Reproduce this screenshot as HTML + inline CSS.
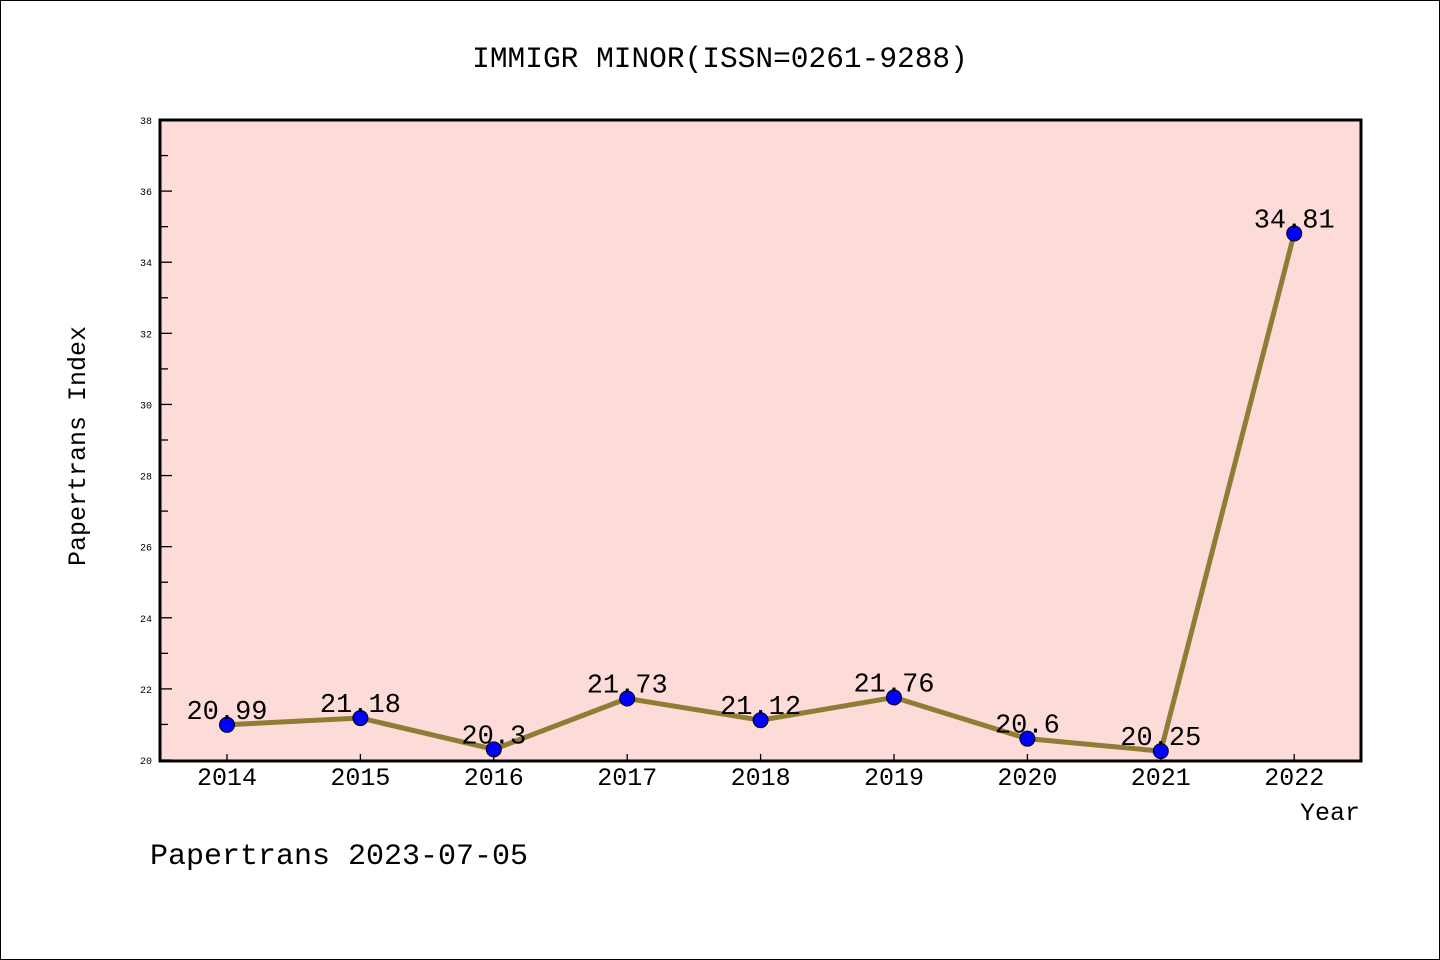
<!DOCTYPE html>
<html><head><meta charset="utf-8"><style>
html,body{margin:0;padding:0;background:#fff}
svg{display:block}
text{font-family:"Liberation Mono",monospace;fill:#000}
</style></head><body>
<svg id="chart" width="1440" height="960" xmlns="http://www.w3.org/2000/svg">
<rect x="0.5" y="0.5" width="1439" height="959" fill="#fff" stroke="#000" stroke-width="1"/>
<text x="720" y="67" font-size="29.5" text-anchor="middle">IMMIGR MINOR(ISSN=0261-9288)</text>
<rect x="160" y="120" width="1201" height="641" fill="#fddbd8"/>
<g id="yticks"></g>
<g id="xticks"></g>
<g id="series"></g>
<rect x="160" y="120" width="1201" height="641" fill="none" stroke="#000" stroke-width="3"/>
<text transform="translate(85,446) rotate(-90)" font-size="25" text-anchor="middle">Papertrans Index</text>
<text x="1360" y="820" font-size="25" text-anchor="end">Year</text>
<text x="150" y="864" font-size="30">Papertrans 2023-07-05</text>
</svg>
<script>
const years=["2014","2015","2016","2017","2018","2019","2020","2021","2022"];
const values=[20.99,21.18,20.3,21.73,21.12,21.76,20.6,20.25,34.81];
const labels=["20.99","21.18","20.3","21.73","21.12","21.76","20.6","20.25","34.81"];
const yTicks=[20,22,24,26,28,30,32,34,36,38];
const NS="http://www.w3.org/2000/svg";
const yMin=20,yMax=38,plotTop=120,plotBot=760,plotLeft=160;
function yScale(v){return plotBot-(v-yMin)/(yMax-yMin)*(plotBot-plotTop);}
function xScale(i){return 227+i*133.4;}
function mk(t,a,p){const e=document.createElementNS(NS,t);for(const k in a)e.setAttribute(k,a[k]);p.appendChild(e);return e;}
const yt=document.getElementById('yticks');
yTicks.forEach(v=>{
  const l=mk('line',{x1:plotLeft,x2:plotLeft+12,y1:yScale(v),y2:yScale(v),stroke:'#000','stroke-width':1.3},yt);
  
  
  const t=mk('text',{x:152,y:yScale(v)+4,'font-size':10,'text-anchor':'end'},yt);
  t.textContent=v;
  
  
  if(v<yMax){
    const m=mk('line',{x1:plotLeft,x2:plotLeft+8,y1:yScale(v+1),y2:yScale(v+1),stroke:'#000','stroke-width':1.3},yt);
    
    
  }
});
const xt=document.getElementById('xticks');
years.forEach((yr,i)=>{
  const l=mk('line',{x1:xScale(i),x2:xScale(i),y1:plotBot-6,y2:plotBot,stroke:'#000','stroke-width':1.3},xt);
  
  
  const t=mk('text',{x:xScale(i),y:785,'font-size':25,'text-anchor':'middle'},xt);
  t.textContent=yr;
  
  
});
const s=document.getElementById('series');
const pl=mk('polyline',{points:values.map((v,i)=>xScale(i)+','+yScale(v)).join(' '),fill:'none',stroke:'#8f7c35','stroke-width':5,'stroke-linejoin':'round'},s);


values.forEach((v,i)=>{
  const c=mk('circle',{cx:xScale(i),cy:yScale(v),r:7.5,fill:'#0000ff',stroke:'#000','stroke-width':1},s);
  
  
});
values.forEach((v,i)=>{
  const t=mk('text',{x:xScale(i),y:yScale(v)-6,'font-size':27,'text-anchor':'middle'},s);
  t.textContent=labels[i];
  
  
});
</script>
</body></html>
